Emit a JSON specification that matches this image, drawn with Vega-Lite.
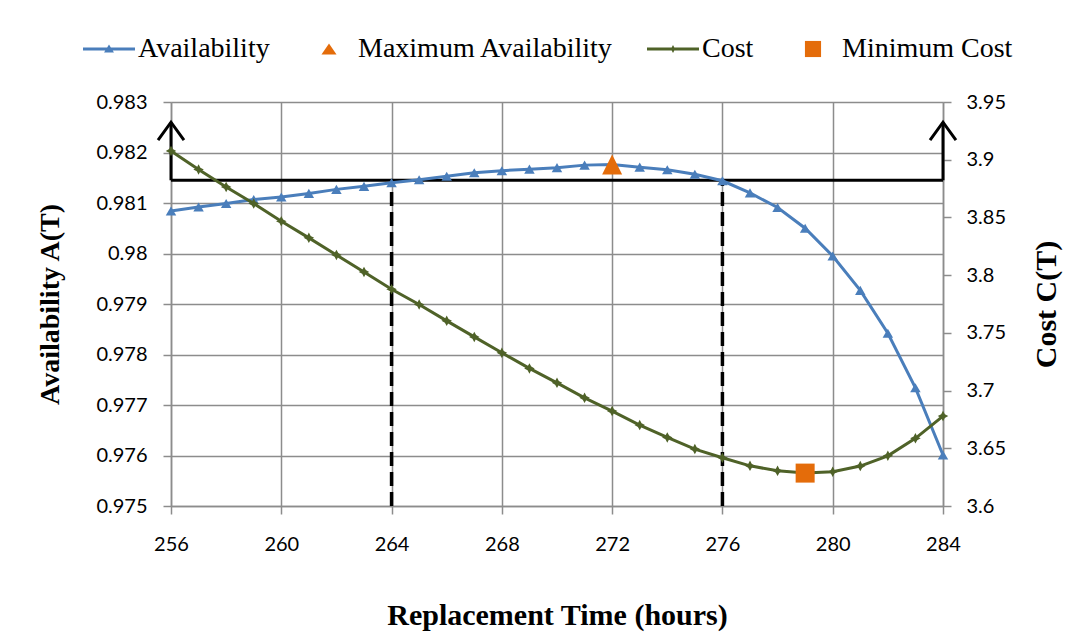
{
  "$schema": "https://vega.github.io/schema/vega-lite/v6.json",
  "width": 772,
  "height": 404,
  "autosize": {"type": "none"},
  "padding": {"left": 171, "top": 102, "right": 146, "bottom": 136},
  "background": "white",
  "config": {
    "view": {"stroke": null},
    "axis": {
      "domainColor": "#8c8c8c",
      "domainWidth": 1.5,
      "gridColor": "#8c8c8c",
      "gridWidth": 1.5,
      "tickColor": "#8c8c8c",
      "tickWidth": 1.5,
      "tickSize": 8,
      "labelFlush": false,
      "labelFont": "Lato",
      "labelFontSize": 20,
      "labelColor": "#000000",
      "titleFont": "Liberation Serif",
      "titleFontWeight": "bold",
      "titleFontSize": 28,
      "titleColor": "#000000"
    },
    "legend": {
      "labelFont": "Liberation Serif",
      "labelFontSize": 28,
      "labelColor": "#000000",
      "labelLimit": 0
    }
  },
  "datasets": {
    "curves": [
      {"t": 256, "a": 0.98084, "c": 3.9076},
      {"t": 257, "a": 0.98092, "c": 3.8915},
      {"t": 258, "a": 0.98099, "c": 3.8764},
      {"t": 259, "a": 0.98107, "c": 3.8620},
      {"t": 260, "a": 0.98112, "c": 3.8467},
      {"t": 261, "a": 0.98119, "c": 3.8323},
      {"t": 262, "a": 0.98127, "c": 3.8175},
      {"t": 263, "a": 0.98133, "c": 3.8028},
      {"t": 264, "a": 0.98140, "c": 3.7878},
      {"t": 265, "a": 0.98146, "c": 3.7746},
      {"t": 266, "a": 0.98153, "c": 3.7604},
      {"t": 267, "a": 0.98160, "c": 3.7465},
      {"t": 268, "a": 0.98164, "c": 3.7327},
      {"t": 269, "a": 0.98167, "c": 3.7192},
      {"t": 270, "a": 0.98170, "c": 3.7067},
      {"t": 271, "a": 0.98175, "c": 3.6937},
      {"t": 272, "a": 0.98176, "c": 3.6822},
      {"t": 273, "a": 0.98171, "c": 3.6701},
      {"t": 274, "a": 0.98166, "c": 3.6594},
      {"t": 275, "a": 0.98157, "c": 3.6493},
      {"t": 276, "a": 0.98144, "c": 3.6418},
      {"t": 277, "a": 0.98120, "c": 3.6348},
      {"t": 278, "a": 0.98091, "c": 3.6305},
      {"t": 279, "a": 0.98050, "c": 3.6285},
      {"t": 280, "a": 0.97995, "c": 3.6297},
      {"t": 281, "a": 0.97927, "c": 3.6346},
      {"t": 282, "a": 0.97842, "c": 3.6435},
      {"t": 283, "a": 0.97734, "c": 3.6586},
      {"t": 284, "a": 0.97601, "c": 3.6779}
    ],
    "maxAvail": [{"t": 272, "a": 0.98176}],
    "minCost": [{"t": 279, "c": 3.6285}],
    "threshold": [{"t": 256, "t2": 284, "a": 0.98145}],
    "uprights": [
      {"t": 256, "a": 0.98145, "a2": 0.9826},
      {"t": 284, "a": 0.98145, "a2": 0.9826}
    ],
    "arrowTips": [
      {"t": 256, "a": 0.9826},
      {"t": 284, "a": 0.9826}
    ],
    "bounds": [
      {"t": 264, "a": 0.975, "a2": 0.98145},
      {"t": 276, "a": 0.975, "a2": 0.98145}
    ],
    "keys": [
      {"series": "Availability"},
      {"series": "Maximum Availability"},
      {"series": "Cost"},
      {"series": "Minimum Cost"}
    ]
  },
  "encoding": {
    "x": {
      "field": "t",
      "type": "quantitative",
      "scale": {"domain": [256, 284], "nice": false, "zero": false},
      "axis": {
        "values": [256, 260, 264, 268, 272, 276, 280, 284],
        "grid": true,
        "labelPadding": 20,
        "title": "Replacement Time (hours)",
        "titleFontSize": 30,
        "titlePadding": 46
      }
    }
  },
  "layer": [
    {
      "encoding": {
        "y": {
          "field": "a",
          "type": "quantitative",
          "scale": {"domain": [0.975, 0.983], "nice": false, "zero": false},
          "axis": {
            "orient": "left",
            "values": [0.975, 0.976, 0.977, 0.978, 0.979, 0.98, 0.981, 0.982, 0.983],
            "format": ".3~f",
            "grid": true,
            "labelPadding": 16,
            "title": "Availability A(T)",
            "titlePadding": 31
          }
        }
      },
      "layer": [
        {
          "data": {"name": "bounds"},
          "mark": {"type": "rule", "color": "#000000", "strokeWidth": 3.5, "strokeDash": [14, 6]},
          "encoding": {"y2": {"field": "a2"}}
        },
        {
          "data": {"name": "uprights"},
          "mark": {"type": "rule", "color": "#000000", "strokeWidth": 3},
          "encoding": {"y2": {"field": "a2"}}
        },
        {
          "data": {"name": "threshold"},
          "mark": {"type": "rule", "color": "#000000", "strokeWidth": 3},
          "encoding": {"x2": {"field": "t2"}}
        },
        {
          "data": {"name": "arrowTips"},
          "mark": {
            "type": "point",
            "shape": "M-0.72,1L0,0L0.72,1",
            "size": 1296,
            "filled": false,
            "color": "#000000",
            "strokeWidth": 3,
            "opacity": 1,
            "strokeJoin": "miter"
          }
        },
        {
          "data": {"name": "curves"},
          "mark": {"type": "line", "color": "#4a7ebb", "strokeWidth": 3}
        },
        {
          "data": {"name": "curves"},
          "mark": {"type": "point", "shape": "triangle-up", "size": 110, "filled": true, "color": "#4a7ebb", "opacity": 1}
        },
        {
          "data": {"name": "maxAvail"},
          "mark": {"type": "point", "shape": "M0,-1L1,1L-1,1Z", "size": 400, "filled": true, "color": "#e46c0a", "opacity": 1}
        },
        {
          "data": {"name": "keys"},
          "mark": {"type": "point", "filled": true, "opacity": 1},
          "encoding": {
            "color": {
              "field": "series",
              "type": "nominal",
              "scale": {
                "domain": ["Availability", "Maximum Availability", "Cost", "Minimum Cost"],
                "range": ["#4a7ebb", "#e46c0a", "#4f6228", "#e46c0a"]
              },
              "legend": {
                "orient": "none",
                "legendX": -88,
                "legendY": -79,
                "direction": "horizontal",
                "title": null,
                "padding": 0,
                "labelFont": "Liberation Serif",
                "labelFontSize": 28,
                "labelColor": "#000000",
                "labelLimit": 0,
                "labelOffset": 3,
                "columnPadding": 33,
                "symbolSize": 2704,
                "symbolStrokeWidth": 0,
                "symbolOpacity": 1
              }
            },
            "shape": {
              "field": "series",
              "type": "nominal",
              "scale": {
                "domain": ["Availability", "Maximum Availability", "Cost", "Minimum Cost"],
                "range": [
                  "M-1,-0.06H1V0.06H-1Z M-0.19,0.13L0,-0.17L0.19,0.13Z",
                  "M-0.29,0.21L0,-0.21L0.29,0.21Z",
                  "M-1,-0.06H1V0.06H-1Z M0,-0.15L0.08,0L0,0.15L-0.08,0Z",
                  "M-0.31,-0.31H0.31V0.31H-0.31Z"
                ]
              }
            }
          }
        }
      ]
    },
    {
      "encoding": {
        "y": {
          "field": "c",
          "type": "quantitative",
          "scale": {"domain": [3.6, 3.95], "nice": false, "zero": false},
          "axis": {
            "orient": "right",
            "values": [3.6, 3.65, 3.7, 3.75, 3.8, 3.85, 3.9, 3.95],
            "format": ".2~f",
            "grid": false,
            "labelPadding": 15,
            "title": "Cost C(T)",
            "titleFontSize": 30,
            "titleAngle": -90,
            "titleBaseline": "top",
            "titlePadding": 26
          }
        }
      },
      "layer": [
        {
          "data": {"name": "curves"},
          "mark": {"type": "line", "color": "#4f6228", "strokeWidth": 3}
        },
        {
          "data": {"name": "curves"},
          "mark": {
            "type": "point",
            "shape": "M0,-1L0.35,-0.35L1,0L0.35,0.35L0,1L-0.35,0.35L-1,0L-0.35,-0.35Z",
            "size": 110,
            "filled": true,
            "color": "#4f6228",
            "opacity": 1
          }
        },
        {
          "data": {"name": "minCost"},
          "mark": {"type": "point", "shape": "square", "size": 361, "filled": true, "color": "#e46c0a", "opacity": 1}
        }
      ]
    }
  ],
  "resolve": {"scale": {"y": "independent"}}
}
